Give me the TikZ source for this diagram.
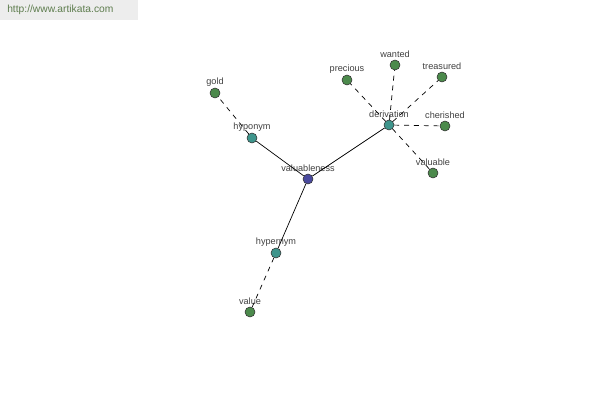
\documentclass[tikz,border=0pt]{standalone}
\usepackage{fontspec}
\setmainfont{Liberation Sans}
\usetikzlibrary{positioning}

\definecolor{rootblue}{HTML}{4A4A9E}
\definecolor{relteal}{HTML}{3E958C}
\definecolor{leafgreen}{HTML}{4C8A4C}
\definecolor{sitegreen}{HTML}{5E7D4E}

\begin{document}
\begin{tikzpicture}[
        x=0.025cm, y=-0.025cm,
        word/.style={circle, draw=black!80, line width=0.4pt, inner sep=0pt, minimum size=0.25cm,
            label={[font=\fontsize{6.5}{7}\selectfont, text=black!75, inner sep=1pt]above:#1}},
        root/.style={word=#1, fill=rootblue},
        rel/.style={word=#1, fill=relteal},
        leaf/.style={word=#1, fill=leafgreen},
        link/.style={draw=black, line width=0.5pt},
        weak/.style={link, dash pattern=on 3.5pt off 3.5pt}
    ]
        % canvas and site banner
        \useasboundingbox[fill=white] (0,0) rectangle (600,400);
        \fill[black!7] (0,0) rectangle (138,20);
        \node[anchor=west, font=\fontsize{7.3}{8}\selectfont, text=sitegreen, inner sep=0pt] (site) at (7,10) {http://www.artikata.com};

        % nodes
        \node[root=valuableness] (valuableness) at (308,179) {};
        \node[rel=hyponym] (hyponym) at (252,138) {};
        \node[rel=derivation] (derivation) at (389,125) {};
        \node[rel=hypernym] (hypernym) at (276,253) {};
        \node[leaf=gold] (gold) at (215,93) {};
        \node[leaf=precious] (precious) at (347,80) {};
        \node[leaf=wanted] (wanted) at (395,65) {};
        \node[leaf=treasured] (treasured) at (442,77) {};
        \node[leaf=cherished] (cherished) at (445,126) {};
        \node[leaf=valuable] (valuable) at (433,173) {};
        \node[leaf=value] (value) at (250,312) {};

        % edges
        \draw[link] (valuableness) -- (hyponym);
        \draw[link] (valuableness) -- (derivation);
        \draw[link] (valuableness) -- (hypernym);
        \draw[weak] (hyponym) -- (gold);
        \draw[weak] (hypernym) -- (value);
        \foreach \w in {precious, wanted, treasured, cherished, valuable}
            \draw[weak] (derivation) -- (\w);
    \end{tikzpicture}
\end{document}
